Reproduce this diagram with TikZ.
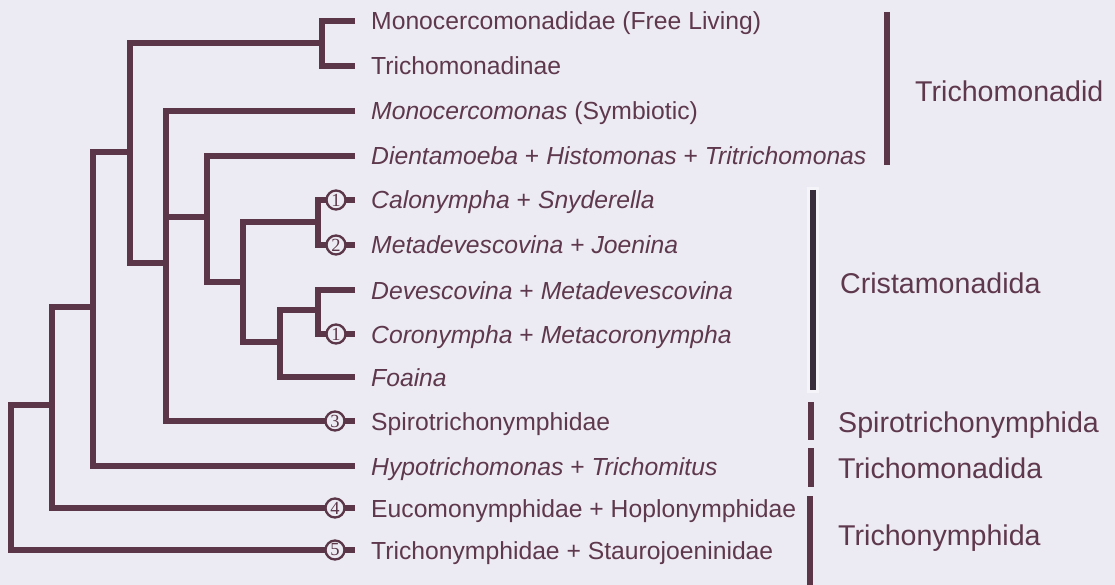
\documentclass[tikz,border=0pt]{standalone}
\usepackage{fontspec}
\setmainfont{Liberation Sans}
\newfontfamily\numfont{Liberation Serif}
\usepackage{xcolor}
\usepackage{tikz}
\definecolor{lavenderbg}{RGB}{236,234,242}
\definecolor{branchplum}{RGB}{90,54,72}
\definecolor{labelplum}{RGB}{94,56,76}
\definecolor{bardark}{RGB}{56,46,60}
\definecolor{barhalo}{RGB}{245,244,249}

\begin{document}
\begin{tikzpicture}[x=1pt, y=-1pt,
  branch/.style={draw=branchplum, line width=5.8pt},
  leaf/.style={anchor=base west, inner sep=0pt, text=labelplum,
    font=\fontsize{24.7}{24.7}\selectfont},
  marker/.style={circle, draw=branchplum, line width=2.3pt, fill=lavenderbg,
    minimum size=19pt, inner sep=0pt, text=branchplum,
    font=\numfont\fontsize{18.5}{18.5}\selectfont},
  groupbar/.style={draw=branchplum, line width=6pt},
  group/.style={anchor=base west, inner sep=0pt, text=labelplum,
    font=\fontsize{28.6}{28.6}\selectfont}
]

\fill[lavenderbg] (0,0) rectangle (1115,585);
\useasboundingbox (0,0) rectangle (1115,585);

% leaves
\foreach \y/\lbl [count=\i] in {
  21/{Monocercomonadidae (Free Living)},
  66/{Trichomonadinae},
  111/{\textit{Monocercomonas} (Symbiotic)},
  156/{\textit{Dientamoeba} + \textit{Histomonas} + \textit{Tritrichomonas}},
  200/{\textit{Calonympha} + \textit{Snyderella}},
  245/{\textit{Metadevescovina} + \textit{Joenina}},
  290/{\textit{Devescovina} + \textit{Metadevescovina}},
  334/{\textit{Coronympha} + \textit{Metacoronympha}},
  377/{\textit{Foaina}},
  421/{Spirotrichonymphidae},
  466/{\textit{Hypotrichomonas} + \textit{Trichomitus}},
  508/{Eucomonymphidae + Hoplonymphidae},
  550/{Trichonymphidae + Staurojoeninidae}}
{
  \coordinate (t\i) at (355,\y);
  \node[leaf] (l\i) at (371,\y+9) {\lbl};
}

\coordinate (nA) at (322,43);
\coordinate (nB) at (130,152);
\coordinate (nC) at (166,263);
\coordinate (nD) at (207,217);
\coordinate (nE) at (243,282);
\coordinate (nF) at (318,222);
\coordinate (nG) at (280,342);
\coordinate (nH) at (318,310);
\coordinate (nI) at (93,307);
\coordinate (nJ) at (52,405);
\coordinate (nK) at (11,478);

\draw[branch] (t1) -| (nA) |- (t2);
\draw[branch] (nA) -| (nB) |- (nC);
\draw[branch] (t3) -| (nC) |- (t10);
\draw[branch] (nD) -- (nD -| nC);
\draw[branch] (t4) -| (nD) |- (nE);
\draw[branch] (nF) -| (nE) |- (nG);
\draw[branch] (t5) -| (nF) |- (t6);
\draw[branch] (nH) -| (nG) |- (t9);
\draw[branch] (t7) -| (nH) |- (t8);
\draw[branch] (nB) -| (nI) |- (t11);
\draw[branch] (nI) -| (nJ) |- (t12);
\draw[branch] (nJ) -| (nK) |- (t13);

\node[marker] (m5) at (t5 -| 336,0) {1};
\node[marker] (m6) at (t6 -| 336,0) {2};
\node[marker] (m8) at (t8 -| 336,0) {1};
\node[marker] (m10) at (t10 -| 335,0) {3};
\node[marker] (m12) at (t12 -| 335,0) {4};
\node[marker] (m13) at (t13 -| 335,0) {5};

% group brackets
\draw[groupbar] (887,12) -- (887,165);
\draw[barhalo, line width=12pt] (813,187) -- (813,393);
\draw[groupbar, draw=bardark] (813,190) -- (813,390);
\draw[groupbar] (811,402) -- (811,440);
\draw[groupbar] (811,448) -- (811,487);
\draw[groupbar] (810,496) -- (810,590);

\begin{scope}
\clip (0,0) rectangle (1101,585);
\node[group] (g1) at (915,102) {Trichomonadid};
\node[group] (g2) at (840,293) {Cristamonadida};
\node[group] (g3) at (838,432) {Spirotrichonymphida};
\node[group] (g4) at (838,478) {Trichomonadida};
\node[group] (g5) at (838,545) {Trichonymphida};
\end{scope}

\end{tikzpicture}
\end{document}
